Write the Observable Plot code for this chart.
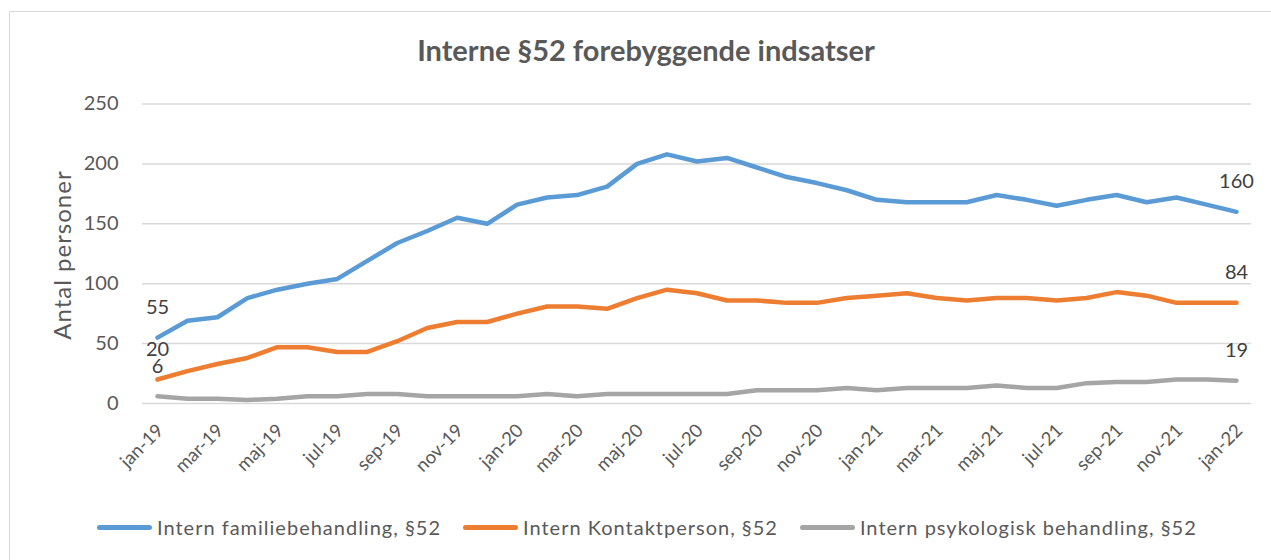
<!DOCTYPE html>
<html>
<head>
<meta charset="utf-8">
<script src="https://cdn.jsdelivr.net/npm/d3@7"></script>
<script src="https://cdn.jsdelivr.net/npm/@observablehq/plot@0.6"></script>
<style>
  html, body { margin: 0; padding: 0; background: #fff; }
  #wrap { position: relative; width: 1271px; height: 560px; overflow: hidden; font-family: Lato, "Open Sans", sans-serif; color: #595959; }
  #frame { position: absolute; left: 9px; top: 11px; width: 1400px; height: 700px; border-left: 1px solid #d9d9d9; border-top: 1px solid #d9d9d9; }
  #title { position: absolute; left: 0; width: 1292px; top: 32px; text-align: center; font-size: 29px; font-weight: 700; color: #595959; }
  #ylabel { position: absolute; left: 61px; top: 255px; transform: translate(-50%, -50%) rotate(-90deg); font-size: 24px; letter-spacing: 1px; white-space: nowrap; color: #595959; }
  #chart { position: absolute; left: 0; top: 0; }
  #legend { position: absolute; left: 97px; top: 515px; display: flex; align-items: center; font-size: 20px; letter-spacing: 1px; color: #595959; white-space: nowrap; }
  .item { display: flex; align-items: center; margin-right: 22px; }
  .sw { width: 55px; height: 5px; border-radius: 3px; margin-right: 5px; }
</style>
</head>
<body>
<div id="wrap">
  <div id="frame"></div>
  <div id="title">Interne §52 forebyggende indsatser</div>
  <div id="ylabel">Antal personer</div>
  <div id="chart"></div>
  <div id="legend"></div>
</div>
<script>
const months = ["jan-19","feb-19","mar-19","apr-19","maj-19","jun-19","jul-19","aug-19","sep-19","okt-19","nov-19","dec-19",
  "jan-20","feb-20","mar-20","apr-20","maj-20","jun-20","jul-20","aug-20","sep-20","okt-20","nov-20","dec-20",
  "jan-21","feb-21","mar-21","apr-21","maj-21","jun-21","jul-21","aug-21","sep-21","okt-21","nov-21","dec-21","jan-22"];
const seriesNames = ["Intern familiebehandling, §52", "Intern Kontaktperson, §52", "Intern psykologisk behandling, §52"];
const seriesColors = ["#5B9BD5", "#ED7D31", "#A5A5A5"];
const familiebehandling = [55,69,72,88,95,100,104,119,134,144,155,150,166,172,174,181,200,208,202,205,197,189,184,178,170,168,168,168,174,170,165,170,174,168,172,166,160];
const kontaktperson = [20,27,33,38,47,47,43,43,52,63,68,68,75,81,81,79,88,95,92,86,86,84,84,88,90,92,88,86,88,88,86,88,93,90,84,84,84];
const psykologisk = [6,4,4,3,4,6,6,8,8,6,6,6,6,8,6,8,8,8,8,8,11,11,11,13,11,13,13,13,15,13,13,17,18,18,20,20,19];
const yTicks = [0, 50, 100, 150, 200, 250];
const xTicks = months.filter((m, i) => i % 2 === 0);

const seriesValues = [familiebehandling, kontaktperson, psykologisk];
const rows = [];
seriesValues.forEach((vals, s) => vals.forEach((v, i) => rows.push({month: months[i], value: v, series: seriesNames[s]})));
const endLabels = rows.filter(d => d.month === months[0] || d.month === months[months.length - 1]);

const chart = Plot.plot({
  width: 1271,
  height: 490,
  marginLeft: 142,
  marginRight: 20,
  marginTop: 103.5,
  marginBottom: 87,
  style: { fontFamily: "Lato, 'Open Sans', sans-serif", color: "#595959", background: "transparent" },
  x: { type: "point", domain: months, padding: 0.5 },
  y: { domain: [0, 250] },
  color: { domain: seriesNames, range: seriesColors },
  marks: [
    Plot.gridY(yTicks, { stroke: "#d9d9d9", strokeOpacity: 1, strokeWidth: 1.5 }),
    Plot.axisY(yTicks, { tickSize: 0, tickPadding: 24, fontSize: 20, label: null }),
    Plot.axisX(xTicks, { tickSize: 0, tickPadding: 24, dx: 3, tickRotate: -45, fontSize: 18.5, label: null }),
    Plot.line(rows, { x: "month", y: "value", z: "series", stroke: "series", strokeWidth: 4.5, strokeLinecap: "round", strokeLinejoin: "round" }),
    Plot.text(endLabels, { x: "month", y: "value", text: d => String(d.value), dy: -30, fontSize: 20, fill: "#404040" })
  ]
});
document.getElementById("chart").appendChild(chart);

const legend = document.getElementById("legend");
seriesNames.forEach((n, i) => {
  const it = document.createElement("div");
  it.className = "item";
  const sw = document.createElement("div");
  sw.className = "sw";
  sw.style.background = seriesColors[i];
  const t = document.createElement("span");
  t.textContent = n;
  it.appendChild(sw); it.appendChild(t);
  legend.appendChild(it);
});
</script>
</body>
</html>
